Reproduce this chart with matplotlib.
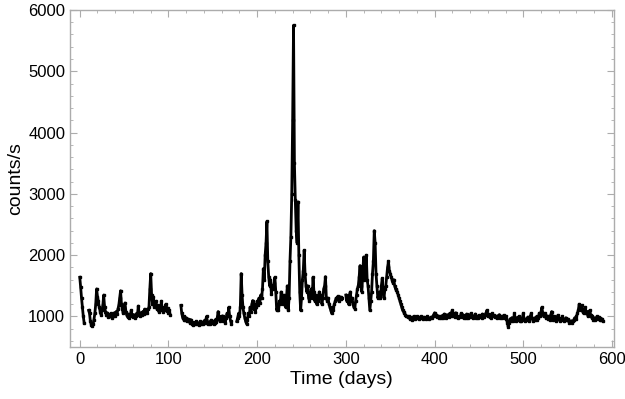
import numpy as np
import matplotlib
matplotlib.use("Agg")
import matplotlib.pyplot as plt
from matplotlib.ticker import MultipleLocator

plt.rcParams['font.family'] = ['Liberation Sans', 'DejaVu Sans']

# light curve, counts/s, one value per day
# each segment: first day + daily values (gaps between segments)
start_a = 0
rate_a = [1640, 1480, 1300, 1150, 1000, 890]

start_b = 10
rate_b = [1100, 1050, 920, 860, 840, 880, 950, 1050, 1200, 1450,
          1320, 1250, 1150, 1080, 1030, 1100, 1180, 1350, 1150, 1080,
          1020, 1060, 990, 1030, 1000, 1050, 980, 1020, 1000, 1060,
          1010, 1080, 1040, 1120, 1180, 1300, 1420, 1200, 1120, 1050,
          1150, 1220, 1080, 1020, 990, 1040, 980, 1010, 1100, 1020,
          990, 1030, 980, 1000, 1050, 1020, 1170, 1040, 1000, 1060,
          1020, 1080, 1040, 1120, 1060, 1090, 1050, 1120, 1150, 1450,
          1700, 1350, 1200, 1320, 1150, 1220, 1250, 1120, 1180, 1080,
          1150, 1100, 1250, 1120, 1080, 1150, 1100, 1200, 1090, 1140,
          1060, 1100, 1030]

start_c = 114
rate_c = [1180, 1050, 980, 950, 1000, 940, 980, 920, 960, 930,
          900, 950, 880, 910, 860, 900, 870, 920, 880, 900,
          860, 890, 920, 870, 900, 880, 930, 890, 950, 1000,
          900, 870, 910, 880, 940, 890, 920, 870, 900, 950,
          910, 980, 1080, 960, 920, 1000, 940, 1010, 920, 960,
          900, 980, 1050, 1000, 1150, 1000, 930, 880]

start_d = 177
rate_d = [920, 980, 1050, 1000, 1150, 1700, 1350, 1150, 1050, 980,
          920, 880, 950, 1050, 1000, 1150, 1080, 1200, 1260, 1120,
          1200, 1080, 1150, 1250, 1180, 1300, 1220, 1350, 1300, 1450,
          1780, 1600, 2000, 2200, 2550, 1900, 1650, 1500, 1600, 1370,
          1500, 1450, 1550, 1640, 1400, 1100, 1150, 1100, 1250, 1200,
          1400, 1300, 1200, 1350, 1200, 1150, 1300, 1500, 1100, 1300,
          1900, 2300, 3000, 4200, 5750, 3500, 2900, 2400, 2200, 2870,
          2000, 1400, 1100, 1300, 1600, 1750, 2080, 1700, 1500, 1400,
          1500, 1300, 1250, 1350, 1450, 1300, 1640, 1400, 1250, 1350,
          1200, 1300, 1250, 1400, 1300, 1350, 1200, 1300, 1450, 1500,
          1650, 1300, 1250, 1300, 1200, 1150, 1100, 1050, 1100, 1150,
          1200, 1250, 1300, 1280, 1330, 1250, 1300, 1320, 1280, 1300]

start_e = 300
rate_e = [1350, 1250, 1300, 1200, 1350, 1400, 1250, 1300, 1200, 1150,
          1130, 1250, 1350, 1450, 1500, 1650, 1830, 1500, 1400, 1700,
          1970, 1600, 1700, 2000, 1600, 1500, 1300, 1100, 1250, 1400,
          1700, 1900, 2400, 2200, 1700, 1500, 1300, 1350, 1400, 1300,
          1500, 1620, 1400, 1300, 1450, 1500, 1650, 1800, 1900, 1750,
          1700, 1650, 1600, 1550, 1600, 1500, 1450, 1430, 1400, 1350,
          1300, 1250, 1200, 1150, 1100, 1080, 1050, 1030, 1010, 1000,
          990, 1000, 960, 980, 950, 990, 970, 1000, 960, 980,
          1000, 970, 990, 960, 980, 1000, 970, 960, 990, 980,
          960, 980, 1000, 970, 960, 980, 990, 970, 1000, 1030,
          1060, 1000, 1030, 990, 1010, 980, 1000, 970, 990, 1020,
          980, 1040, 1000, 980, 1030, 1010, 990, 1050, 1000, 1060,
          1100, 1010, 1050, 990, 1060, 1000, 970, 990]

start_f = 429
rate_f = [1000, 1050, 990, 1030, 980, 1010, 970, 1040, 1000, 980,
          1020, 990, 1050, 1000, 970, 1010, 990, 1040, 980, 1000,
          970, 1020, 990, 1010, 980, 1040, 1000, 990, 1030, 1060,
          1100, 1000, 1040, 990, 1010, 980, 1050, 1000, 1020, 990,
          1000, 970, 1010, 990, 1030, 980, 1000, 970, 990, 1020,
          980, 1000, 960, 900, 830, 900, 960, 930, 980, 920,
          950, 1050, 960, 920, 980, 940, 1000, 930, 960, 920,
          980, 1050, 950, 920, 960, 940, 990, 930, 960, 1000,
          1050, 970, 930, 960, 940, 990, 950, 1000, 970, 1050,
          1000, 1080, 1150, 1050, 1000, 1050, 1000, 970, 1010, 960,
          1000, 950, 1030, 1080, 980, 940, 1000, 960, 930, 980,
          1020, 960, 930, 970, 950, 1000, 960, 920, 950, 980,
          940, 960, 920, 900, 910, 930, 900, 920, 950, 980,
          960, 1000, 1050, 1100, 1200, 1150, 1100, 1180, 1080, 1050,
          1120, 1150, 1050, 1080, 1000, 1050, 1100, 1020, 980, 1000,
          950, 980, 940, 970, 1000, 960, 990, 950, 970, 940,
          960, 930]

segments = [(start_a, rate_a), (start_b, rate_b), (start_c, rate_c),
            (start_d, rate_d), (start_e, rate_e), (start_f, rate_f)]

fig = plt.figure(figsize=(6.25, 3.99), dpi=100)
ax = fig.add_axes([0.112, 0.130, 0.870, 0.845])

for start, rate in segments:
    days = start + np.arange(len(rate))
    ax.plot(days, rate, color='black', lw=2.0, marker='s', ms=1.6)

ax.set_xlim(-11, 602)
ax.set_ylim(500, 6000)
ax.xaxis.set_major_locator(MultipleLocator(100))
ax.xaxis.set_minor_locator(MultipleLocator(20))
ax.yaxis.set_major_locator(MultipleLocator(1000))
ax.yaxis.set_minor_locator(MultipleLocator(200))

frame = '#acacac'
for s in ax.spines.values():
    s.set_color(frame)
    s.set_linewidth(1.0)
ax.tick_params(which='both', direction='in', top=True, right=True,
               color=frame, labelsize=12, labelcolor='black')
ax.tick_params(which='major', length=5, width=0.8)
ax.tick_params(which='minor', length=2.5, width=0.6)

ax.set_xlabel('Time (days)', fontsize=14, labelpad=3)
ax.set_ylabel('counts/s', fontsize=14)
ax.yaxis.set_label_coords(-0.085, 0.5)

fig.savefig('out.png', dpi=100)
